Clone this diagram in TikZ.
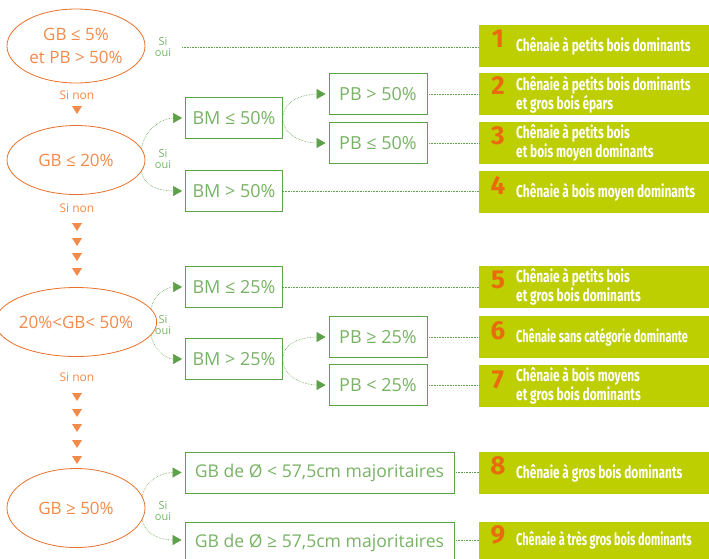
\documentclass[tikz,border=0pt]{standalone}
\usepackage{fontspec}
\setmainfont{Open Sans}
\newfontfamily\condfont[FakeStretch=0.70]{Fira Sans}
\newfontfamily\condnarrow[FakeStretch=0.645]{Fira Sans}
\newfontfamily\numfont{Fira Sans}
\usetikzlibrary{shapes.geometric,arrows.meta}
\definecolor{orgline}{HTML}{E8702A}
\definecolor{orgtext}{HTML}{F28A4A}
\definecolor{grnline}{HTML}{5FA04A}
\definecolor{grntext}{HTML}{78B264}
\definecolor{lime}{HTML}{BDCF00}
\definecolor{numorg}{HTML}{EA6A10}
\tikzset{
  cond/.style={ellipse,draw=orgline,thick,text=orgtext,align=center,minimum width=138pt,inner sep=0pt,font=\fontsize{17}{23}\selectfont},
  crit/.style={rectangle,draw=grnline,thick,text=grntext,minimum height=41pt,inner sep=0pt,font=\fontsize{18}{20}\selectfont},
  res/.style={rectangle,fill=lime,anchor=west,minimum width=230pt,minimum height=42pt,inner sep=0pt},
  num/.style={text=numorg,inner sep=0pt,font=\numfont\bfseries\fontsize{26}{26}\selectfont},
  rtext/.style={text=white,anchor=west,align=left,inner sep=0pt,font=\condfont\bfseries\fontsize{17}{15}\selectfont},
  sioui/.style={text=grntext,align=center,inner sep=0pt,font=\fontsize{11}{11}\selectfont},
  sinon/.style={text=orgtext,inner sep=0pt,font=\fontsize{12}{12}\selectfont},
  down/.style={fill=orgtext},
  link/.style={grnline,densely dotted,semithick},
  branch/.style={grnline,densely dotted,semithick,-{Triangle[length=9pt,width=10pt]}}
}

\begin{document}
\begin{tikzpicture}[x=1pt,y=1pt]
\useasboundingbox (0,0) rectangle (709,-558);
% conditions
\node (c1) at (76,-46) [cond,minimum height=74pt]{GB ≤ 5\%\\et PB > 50\%};
\node (c2) at (76,-160) [cond,minimum height=69pt]{GB ≤ 20\%};
\node (c3) at (76,-322) [cond,minimum height=69pt]{20\%<GB< 50\%};
\node (c4) at (76,-508) [cond,minimum height=79pt]{GB ≥ 50\%};
\node (so1) at (163,-47) [sioui]{Si\\oui};
\node (so2) at (163,-159) [sioui]{Si\\oui};
\node (so3) at (163,-325) [sioui]{Si\\oui};
\node (so4) at (163,-511) [sioui]{Si\\oui};
\node (sn1) at (77,-95) [sinon]{Si non};
\node (sn2) at (77,-208) [sinon]{Si non};
\node (sn3) at (77,-377) [sinon]{Si non};
% orange triangles
\foreach \y in {106,223,238,253,268,393,409,424,440,456}
  \fill[down] (72,-\y) -- (82,-\y) -- (77,-\y-8) -- cycle;
% criteria boxes
\node (b1) at (234,-118) [crit,minimum width=97pt]{BM ≤ 50\%};
\node (b2) at (234,-191) [crit,minimum width=97pt]{BM > 50\%};
\node (b3) at (234,-287) [crit,minimum width=97pt]{BM ≤ 25\%};
\node (b4) at (234,-359) [crit,minimum width=97pt]{BM > 25\%};
\node (p1) at (378,-94) [crit,minimum width=98pt]{PB > 50\%};
\node (p2) at (378,-143) [crit,minimum width=98pt]{PB ≤ 50\%};
\node (p3) at (378,-337) [crit,minimum width=98pt]{PB ≥ 25\%};
\node (p4) at (378,-385) [crit,minimum width=98pt]{PB < 25\%};
\node (g1) at (319.5,-472.5) [crit,minimum width=269pt,font=\fontsize{17.6}{18}\selectfont]{GB de Ø < 57,5cm majoritaires};
\node (g2) at (319.5,-542.5) [crit,minimum width=269pt,font=\fontsize{17.6}{18}\selectfont]{GB de Ø ≥ 57,5cm majoritaires};
% results
\node (r1) at (479,-46) [res]{};
\node (r2) at (479,-94) [res]{};
\node (r3) at (479,-142.5) [res]{};
\node (r4) at (479,-192) [res]{};
\node (r5) at (479,-286.5) [res]{};
\node (r6) at (479,-337) [res]{};
\node (r7) at (479,-386) [res]{};
\node (r8) at (479,-472.5) [res]{};
\node (r9) at (479,-543) [res]{};
\node at (498,-39) [num]{1};
\node at (498,-86) [num]{2};
\node at (498,-136) [num]{3};
\node at (498,-185) [num]{4};
\node at (498,-280) [num]{5};
\node at (498,-331) [num]{6};
\node at (498,-380) [num]{7};
\node at (498,-466) [num]{8};
\node at (498,-535) [num]{9};
\node at (516,-46) [rtext]{Chênaie à petits bois dominants};
\node at (516,-94.5) [rtext]{Chênaie à petits bois dominants\\et gros bois épars};
\node at (516,-143) [rtext]{Chênaie à petits bois\\et bois moyen dominants};
\node at (516,-192) [rtext]{Chênaie à bois moyen dominants};
\node at (516,-287) [rtext]{Chênaie à petits bois\\et gros bois dominants};
\node at (516,-337) [rtext,font=\condnarrow\bfseries\fontsize{17}{15}\selectfont]{Chênaie sans catégorie dominante};
\node at (516,-386) [rtext]{Chênaie à bois moyens\\et gros bois dominants};
\node at (516,-473) [rtext]{Chênaie à gros bois dominants};
\node at (516,-540) [rtext,font=\condnarrow\bfseries\fontsize{17}{15}\selectfont]{Chênaie à très gros bois dominants};
% connectors
\coordinate (s1) at (182,-47);
\draw[link] (s1) -- (s1 -| r1.west);
\draw[link] (p1.east) -- (r2.west);
\draw[link] (p2.east) -- (p2.east -| r3.west);
\draw[link] (b2.east) -- (b2.east -| r4.west);
\draw[link] (b3.east) -- (b3.east -| r5.west);
\draw[link] (p3.east) -- (r6.west);
\draw[link] (p4.east) -- (p4.east -| r7.west);
\draw[link] (g1.east) -- (r8.west);
\draw[link] (g2.east |- 0,-540) -- (r9.west |- 0,-540);
\draw[branch] (c2.10) to[out=80,in=180] ([xshift=-3pt]b1.west);
\draw[branch] (c2.-10) to[out=-80,in=180] ([xshift=-3pt]b2.west);
\draw[branch] (b1.east) to[out=90,in=180] ([xshift=-3pt]p1.west);
\draw[branch] (b1.east) to[out=-90,in=180] ([xshift=-3pt]p2.west);
\draw[branch] (c3.10) to[out=80,in=180] ([xshift=-3pt]b3.west);
\draw[branch] (c3.-10) to[out=-80,in=180] ([xshift=-3pt]b4.west);
\draw[branch] (b4.east) to[out=90,in=180] ([xshift=-3pt]p3.west);
\draw[branch] (b4.east) to[out=-90,in=180] ([xshift=-3pt]p4.west);
\draw[branch] (c4.10) to[out=80,in=180] ([xshift=-3pt]g1.west);
\draw[branch] (c4.-10) to[out=-80,in=180] ([xshift=-3pt,yshift=2.5pt]g2.west);
\end{tikzpicture}
\end{document}
